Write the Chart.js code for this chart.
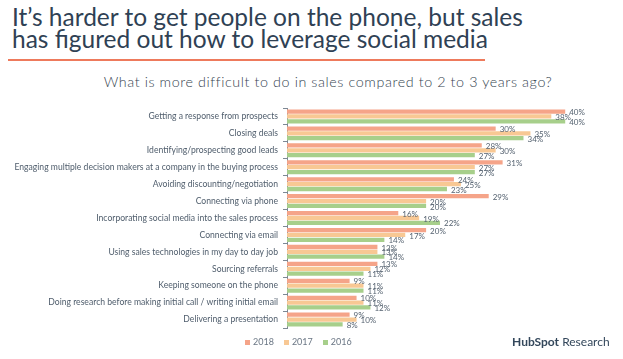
<!DOCTYPE html>
<html>
<head>
<meta charset="utf-8">
<script src="https://cdn.jsdelivr.net/npm/chart.js@4"></script>
<style>
  html, body { margin: 0; padding: 0; background: #fff; }
  body { width: 623px; height: 359px; position: relative; overflow: hidden; font-family: Lato, "Open Sans", sans-serif; }
  #title { position: absolute; left: 12px; top: 6px; font-size: 24.5px; line-height: 22px; color: #2f4154; font-family: Lato, sans-serif; }
  #rule { position: absolute; left: 8px; top: 59px; width: 477px; height: 2px; background: #ee7a5c; }
  #subtitle { position: absolute; left: 0; width: 656px; text-align: center; top: 73px; font-size: 14.3px; font-weight: 300; letter-spacing: 0.6px; color: #34434f; }
  #legend { position: absolute; top: 336px; left: 245px; font-size: 9px; color: #6a7684; }
  #legend span { margin-right: 10px; }
  #legend i { display: inline-block; width: 5px; height: 5px; margin-right: 3px; }
  #logo { position: absolute; left: 512px; top: 334px; font-size: 12px; color: #33475b; }
  #logo b { font-weight: 700; }
  #wrap { position: absolute; left: 0; top: 0; width: 623px; height: 359px; }
</style>
</head>
<body>
<div id="title">It’s harder to get people on the phone, but sales<br>has figured out how to leverage social media</div>
<div id="rule"></div>
<div id="subtitle">What is more difficult to do in sales compared to 2 to 3 years ago?</div>
<div id="wrap"><canvas id="chart"></canvas></div>
<div id="legend"></div>
<div id="logo"><b>HubSpot</b> Research</div>
<script>
  // Categories and survey results (percent)
  const categories = [
    'Getting a response from prospects',
    'Closing deals',
    'Identifying/prospecting good leads',
    'Engaging multiple decision makers at a company in the buying process',
    'Avoiding discounting/negotiation',
    'Connecting via phone',
    'Incorporating social media into the sales process',
    'Connecting via email',
    'Using sales technologies in my day to day job',
    'Sourcing referrals',
    'Keeping someone on the phone',
    'Doing research before making initial call / writing initial email',
    'Delivering a presentation'
  ];
  const values2018 = [40, 30, 28, 31, 24, 29, 16, 20, 13, 13, 9, 10, 9];
  const values2017 = [38, 35, 30, 27, 25, 20, 19, 17, 13, 12, 11, 11, 10];
  const values2016 = [40, 34, 27, 27, 23, 20, 22, 14, 14, 11, 11, 12, 8];
  const seriesNames = ['2018', '2017', '2016'];
  const seriesColors = ['#f5a489', '#f8c894', '#a7cf8b'];

  // Draw the percent labels just past the end of each bar
  const valueLabels = {
    id: 'valueLabels',
    afterDatasetsDraw(chart) {
      const ctx = chart.ctx;
      ctx.save();
      ctx.font = '8px Lato, sans-serif';
      ctx.fillStyle = '#556270';
      ctx.textBaseline = 'middle';
      ctx.textAlign = 'left';
      chart.data.datasets.forEach((ds, i) => {
        const meta = chart.getDatasetMeta(i);
        meta.data.forEach((bar, j) => {
          ctx.fillText(ds.data[j] + '%', bar.x + 4, bar.y + 1);
        });
      });
      ctx.restore();
    }
  };

  const legendEl = document.getElementById('legend');
  seriesNames.forEach((name, i) => {
    legendEl.innerHTML += '<span><i style="background:' + seriesColors[i] + '"></i>' + name + '</span>';
  });

  const ctx = document.getElementById('chart').getContext('2d');
  new Chart(ctx, {
    type: 'bar',
    data: {
      labels: categories,
      datasets: [values2018, values2017, values2016].map((d, i) => ({
        label: seriesNames[i],
        data: d,
        backgroundColor: seriesColors[i],
        categoryPercentage: 0.86,
        barPercentage: 0.88
      }))
    },
    options: {
      indexAxis: 'y',
      responsive: true,
      maintainAspectRatio: false,
      animation: false,
      layout: { padding: { top: 108, bottom: 31, left: 0, right: 23 } },
      scales: {
        x: { display: false, min: 0, max: 45 },
        y: {
          afterFit(scale) { scale.width = 287; },
          grid: { offset: true, drawOnChartArea: false, tickLength: 4, color: '#7d8894' },
          border: { display: true, color: '#7d8894' },
          ticks: { color: '#4f5d6c', font: { size: 8.6, family: 'Lato, sans-serif' }, padding: 5 }
        }
      },
      plugins: {
        legend: { display: false },
        tooltip: { enabled: false }
      }
    },
    plugins: [valueLabels]
  });
</script>
</body>
</html>
